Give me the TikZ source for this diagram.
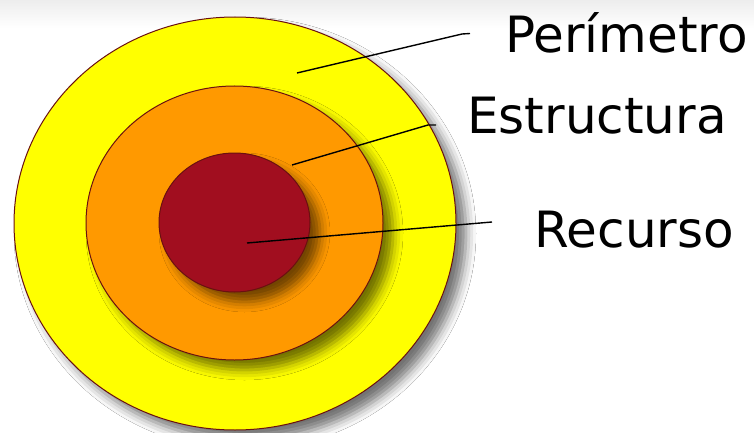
\documentclass[tikz,border=0pt]{standalone}
\usepackage{fontspec}
\setmainfont{DejaVu Sans}
\usetikzlibrary{shapes.geometric,shadows.blur}
\definecolor{ringedge}{HTML}{6A1010}
\definecolor{ryellow}{HTML}{FFFF00}
\definecolor{rorange}{HTML}{FF9900}
\definecolor{rred}{HTML}{A10E1F}
\tikzset{
  ring/.style={ellipse, draw=ringedge, line width=1pt, inner sep=0pt, outer sep=0pt,
    blur shadow={shadow xshift=10pt, shadow yshift=-10pt, shadow blur radius=10pt, shadow opacity=55}},
  label/.style={anchor=base west, font=\fontsize{50}{56}\selectfont, inner sep=0pt},
  leader/.style={line width=1.4pt, black}
}
\begin{document}
\begin{tikzpicture}[x=1pt,y=-1pt]
\useasboundingbox (0,0) rectangle (754,433);
\fill[white] (0,0) rectangle (754,433);
\shade[top color=black!7, bottom color=white] (0,0) rectangle (754,28);
\node[ring, fill=ryellow, minimum width=442pt, minimum height=413pt] (outer) at (235,223.5) {};
\node[ring, fill=rorange, minimum width=297pt, minimum height=274pt] (mid) at (234.5,223) {};
\node[ring, fill=rred, minimum width=151pt, minimum height=139pt] (core) at (234.5,222.5) {};
\node[label] (tper) at (505,53) {Perímetro};
\node[label] (test) at (467,133) {Estructura};
\node[label] (trec) at (534,247) {Recurso};
\coordinate (pa) at (297,73);
\coordinate (pb) at (462,34);
\coordinate (pc) at (470,33.5);
\coordinate (ea) at (292,165);
\coordinate (eb) at (428,125);
\coordinate (ec) at (436,125);
\coordinate (ra) at (247,243);
\coordinate (rb) at (492,222);
\draw[leader] (pa) -- (pb) -- (pc);
\draw[leader] (ea) -- (eb) -- (ec);
\draw[leader] (ra) -- (rb);
\end{tikzpicture}
\end{document}
